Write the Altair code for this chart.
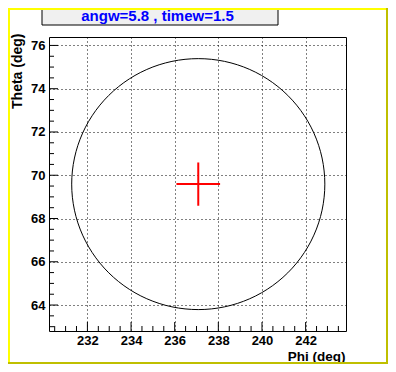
import altair as alt
import numpy as np
import pandas as pd

# ---- values ----
phi_ticks = [232, 234, 236, 238, 240, 242]
theta_ticks = [64, 66, 68, 70, 72, 74, 76]
phi_minor = [230.5, 231, 231.5, 232.5, 233, 233.5, 234.5, 235, 235.5, 236.5, 237, 237.5,
             238.5, 239, 239.5, 240.5, 241, 241.5, 242.5, 243, 243.5]
theta_minor = [63, 63.5, 64.5, 65, 65.5, 66.5, 67, 67.5, 68.5, 69, 69.5, 70.5, 71, 71.5,
               72.5, 73, 73.5, 74.5, 75, 75.5]
phi_domain = [230.24, 243.85]
theta_domain = [62.80, 76.39]
center_phi = 237.08
center_theta = 69.59
radius = 5.8
cross_half = 1.0
title_text = "angw=5.8 , timew=1.5"
x_title = "Phi (deg)"
y_title = "Theta (deg)"

W, H = 297, 294
FONT = "Liberation Sans"

xs = alt.Scale(domain=phi_domain, nice=False, zero=False)
ys = alt.Scale(domain=theta_domain, nice=False, zero=False)

# circle outline from its center and radius
ang = np.linspace(0, 2 * np.pi, 121)
circ_df = pd.DataFrame({
    "i": np.arange(len(ang)),
    "phi": center_phi + radius * np.cos(ang),
    "theta": center_theta + radius * np.sin(ang),
})

x_axis = alt.Axis(values=phi_ticks, grid=True, gridDash=[1, 3], gridColor="black",
                  gridOpacity=1, gridWidth=1, ticks=False, tickSize=0, domain=False,
                  labelFont=FONT, labelFontWeight="bold", labelFontSize=13, labelColor="black",
                  labelPadding=3, labelFlush=False, labelOverlap=False, format="d",
                  title=x_title, titleFont=FONT, titleFontSize=13.5, titleFontWeight="bold",
                  titleColor="black", titleX=296, titleY=29, titleAlign="right",
                  titleBaseline="alphabetic", titleAngle=0)
y_axis = alt.Axis(values=theta_ticks, grid=True, gridDash=[1, 3], gridColor="black",
                  gridOpacity=1, gridWidth=1, ticks=False, tickSize=0, domain=False,
                  labelFont=FONT, labelFontWeight="bold", labelFontSize=13, labelColor="black",
                  labelPadding=4, labelFlush=False, labelOverlap=False, format="d",
                  title=y_title, titleFont=FONT, titleFontSize=14, titleFontWeight="bold",
                  titleColor="black", titleX=-27.5, titleY=-4, titleAlign="right",
                  titleBaseline="alphabetic", titleAngle=270)

circle = alt.Chart(circ_df).mark_line(color="black", strokeWidth=1).encode(
    x=alt.X("phi:Q", scale=xs, axis=x_axis),
    y=alt.Y("theta:Q", scale=ys, axis=y_axis),
    order="i:Q",
)

cross_df = pd.DataFrame({
    "x": [center_phi - cross_half, center_phi],
    "x2": [center_phi + cross_half, center_phi],
    "y": [center_theta, center_theta - cross_half],
    "y2": [center_theta, center_theta + cross_half],
})
cross = alt.Chart(cross_df).mark_rule(color="#ff0000", strokeWidth=2).encode(
    x=alt.X("x:Q", scale=xs, axis=x_axis), x2="x2:Q",
    y=alt.Y("y:Q", scale=ys, axis=y_axis), y2="y2:Q",
)

def xticks(vals, length):
    return alt.Chart(pd.DataFrame({"v": vals})).mark_rule(color="black", strokeWidth=1).encode(
        x=alt.X("v:Q", scale=xs, axis=x_axis), y=alt.value(H), y2=alt.value(H - length))

def yticks(vals, length):
    return alt.Chart(pd.DataFrame({"v": vals})).mark_rule(color="black", strokeWidth=1).encode(
        y=alt.Y("v:Q", scale=ys, axis=y_axis), x=alt.value(0), x2=alt.value(length))

dummy = pd.DataFrame({"a": [0]})
box = alt.Chart(dummy).mark_rect(fill="#f0f0f0", stroke="black", strokeWidth=1).encode(
    x=alt.value(-7), x2=alt.value(229), y=alt.value(-28), y2=alt.value(-12))
title = alt.Chart(pd.DataFrame({"t": [title_text]})).mark_text(
    font=FONT, fontSize=15, fontWeight="bold", color="#0000ff", align="center",
    baseline="alphabetic").encode(x=alt.value(108.5), y=alt.value(-16), text="t:N")

border_l = alt.Chart(dummy).mark_rule(color="#ffff00", strokeWidth=2).encode(
    x=alt.value(-40), y=alt.value(-29), y2=alt.value(327))
border_t = alt.Chart(dummy).mark_rule(color="#ffff00", strokeWidth=2).encode(
    y=alt.value(-28), x=alt.value(-41), x2=alt.value(339))
border_r = alt.Chart(dummy).mark_rule(color="#bfbf00", strokeWidth=2).encode(
    x=alt.value(338), y=alt.value(-29), y2=alt.value(327))
border_b = alt.Chart(dummy).mark_rule(color="#bfbf00", strokeWidth=2).encode(
    y=alt.value(326), x=alt.value(-41), x2=alt.value(339))

chart = alt.layer(
    circle, cross,
    xticks(phi_ticks, 9), xticks(phi_minor, 5),
    yticks(theta_ticks, 9), yticks(theta_minor, 5),
    box, title, border_l, border_t, border_r, border_b,
).properties(
    width=W, height=H,
    autosize=alt.AutoSizeParams(type="none"),
    padding={"left": 41, "top": 29, "right": 42, "bottom": 33},
    background="white",
).configure_view(stroke="black", strokeWidth=1, fill="white")

chart.save("out.html", embed_options={"renderer": "svg", "actions": False})
